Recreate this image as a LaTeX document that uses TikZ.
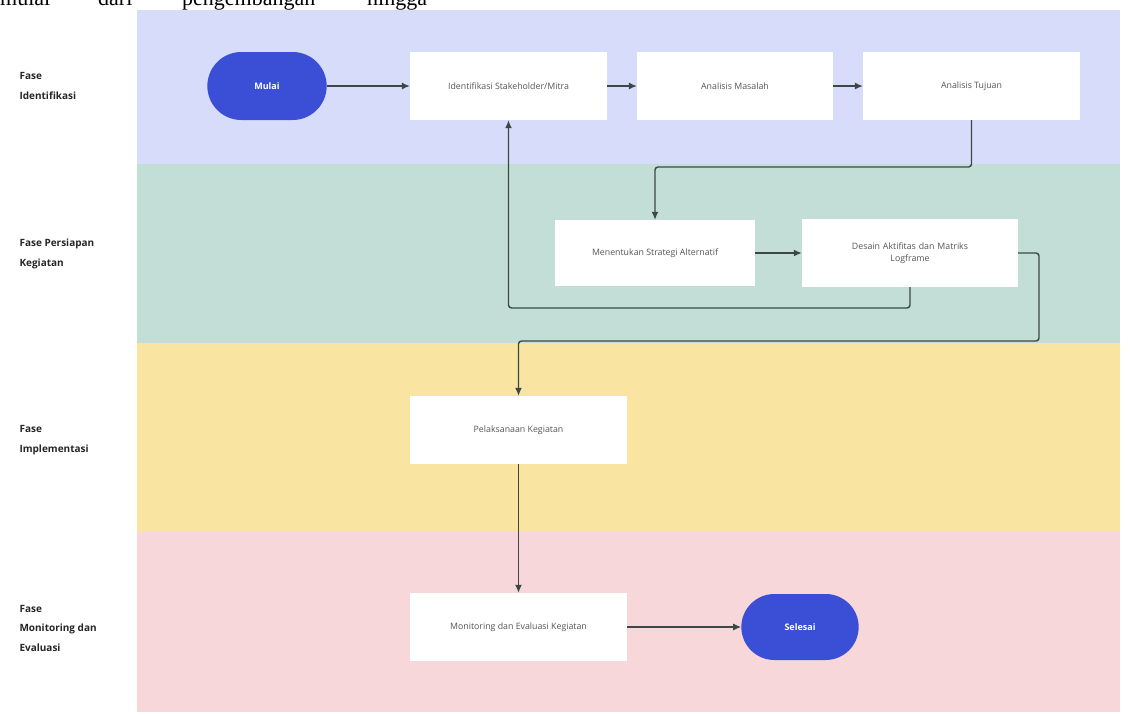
\documentclass[tikz,border=0pt]{standalone}
\usepackage{fontspec}
\setmainfont{Open Sans}
\newfontfamily\serifw{Liberation Serif}
\usetikzlibrary{arrows.meta,shapes.misc}
\definecolor{lavlane}{HTML}{D7DCFA}
\definecolor{grnlane}{HTML}{C3DED7}
\definecolor{yellane}{HTML}{F9E5A1}
\definecolor{pnklane}{HTML}{F7D7D9}
\definecolor{termblue}{HTML}{3A4FD6}
\definecolor{boxtext}{HTML}{555555}
\definecolor{connline}{HTML}{3B4846}
\tikzset{
  procbox/.style={draw=none,fill=white,minimum width=#1,minimum height=68pt,inner sep=2pt,
    font=\fontsize{8.8}{11.5}\selectfont,text=boxtext,align=center},
  term/.style={rounded rectangle,fill=termblue,draw=none,minimum width=126pt,minimum height=68pt,
    font=\bfseries\fontsize{9}{10}\selectfont,text=white},
  lanelabel/.style={anchor=west,align=left,font=\bfseries\fontsize{10}{19.5}\selectfont,text=black!85},
  conn/.style={draw=connline,line width=1.4pt,rounded corners=3pt,-{Latex[length=8pt,width=7pt]}},
  topword/.style={anchor=base west,font=\serifw\fontsize{22}{24}\selectfont,inner sep=0pt}
}
\begin{document}
\begin{tikzpicture}[x=1pt,y=-1pt]
\useasboundingbox (0,0) rectangle (1131,715);
\clip (0,0) rectangle (1131,715);
\fill[white] (0,0) rectangle (1131,715);
% lanes
\fill[lavlane] (137,10) rectangle (1120,164);
\fill[grnlane] (137,164) rectangle (1120,343);
\fill[yellane] (137,343) rectangle (1120,532);
\fill[pnklane] (137,532) rectangle (1120,712);
% cut-off line of text above (the reference shows only its lower part)
\node[topword] (w1) at (0,5) {mulai};
\node[topword] (w2) at (98,5) {dari};
\node[topword] (w3) at (182,5) {pengembangan};
\node[topword] (w4) at (367,5) {hingga};
% lane labels
\node[lanelabel] (l1) at (16,86) {Fase\\Identifikasi};
\node[lanelabel] (l2) at (16,254) {Fase Persiapan\\Kegiatan};
\node[lanelabel] (l3) at (16,440) {Fase\\Implementasi};
\node[lanelabel] (l4) at (16,628) {Fase\\Monitoring dan\\Evaluasi};
% nodes
\node[term] (mulai) at (267,86) {Mulai};
\node[procbox=197pt] (b1) at (508.5,86) {Identifikasi Stakeholder/Mitra};
\node[procbox=196pt] (b2) at (735,86) {Analisis Masalah};
\node[procbox=217pt] (b3) at (971.5,86) {Analisis Tujuan};
\node[procbox=200pt,minimum height=66pt] (b4) at (655,253) {Menentukan Strategi Alternatif};
\node[procbox=216pt,text width=190pt] (b5) at (910,253) {Desain Aktifitas dan Matriks\\Logframe};
\node[procbox=217pt] (b6) at (518.5,430) {Pelaksanaan Kegiatan};
\node[procbox=217pt] (b7) at (518.5,627) {Monitoring dan Evaluasi Kegiatan};
\node[term,minimum width=124pt,minimum height=66pt] (selesai) at (800,627) {Selesai};
% connector bend points
\coordinate (c1) at (971.5,167);
\coordinate (c2) at (655,167);
\coordinate (c3) at (910,308);
\coordinate (c4) at (508.5,308);
\coordinate (c5) at (1039,253);
\coordinate (c6) at (1039,341);
\coordinate (c7) at (518.5,341);
% connectors
\draw[conn,line width=1.1pt] (mulai.east) -- (b1.west);
\draw[conn,line width=1.1pt] (b1.east) -- (b2.west);
\draw[conn,line width=1.1pt] (b2.east) -- (b3.west);
\draw[conn] (b3.south) -- (c1) -- (c2) -- (b4.north);
\draw[conn] (b4.east) -- (b5.west);
\draw[conn] (b5.south) -- (c3) -- (c4) -- (b1.south);
\draw[conn] (b5.east) -- (c5) -- (c6) -- (c7) -- (b6.north);
\draw[conn] (b6.south) -- (b7.north);
\draw[conn,line width=1.1pt] (b7.east) -- (selesai.west);
\end{tikzpicture}
\end{document}
